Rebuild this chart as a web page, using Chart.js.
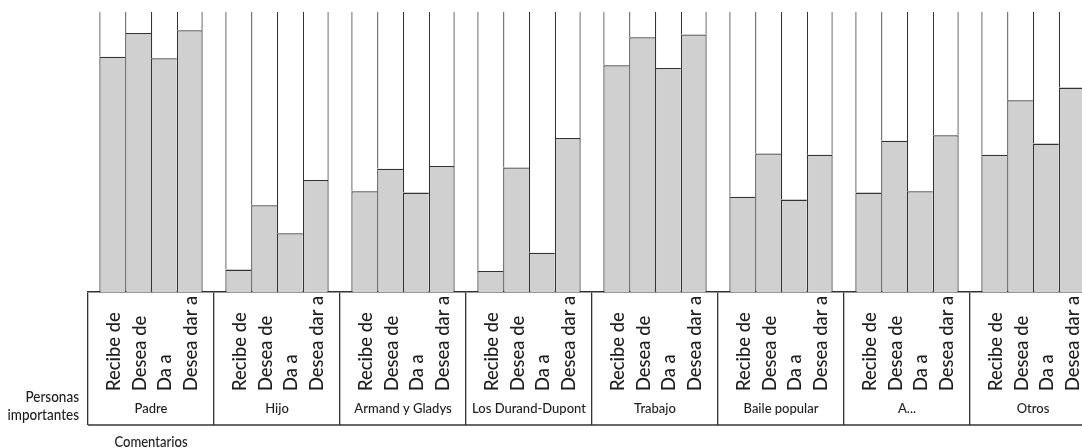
<!DOCTYPE html>
<html lang="es">
<head>
<meta charset="utf-8">
<title>Personas importantes</title>
<script src="https://cdn.jsdelivr.net/npm/chart.js@4.4.1/dist/chart.umd.min.js"></script>
<style>
  html, body { margin: 0; padding: 0; background: #fff; overflow: hidden; }
  #wrap { width: 1100px; height: 448px; }
</style>
</head>
<body>
<div id="wrap"><canvas id="chart"></canvas></div>
<script>
"use strict";

// groups along the bottom of the table
const categories = ["Padre", "Hijo", "Armand y Gladys", "Los Durand-Dupont", "Trabajo", "Baile popular", "A...", "Otros"];
// the four columns inside every group
const series = ["Recibe de", "Desea de", "Da a", "Desea dar a"];

// values (0 - 100)
const recibeDe = [84, 8, 36, 7.5, 81, 34, 35.5, 49];
const deseaDe = [92.5, 31, 44, 44.5, 91, 49.5, 54, 68.5];
const daA = [83.5, 21, 35.5, 14, 80, 33, 36, 53];
const deseaDarA = [93.5, 40, 45, 55, 92, 49, 56, 73];

const rowTitle = ["Personas", "importantes"];
const footTitle = "Comentarios";
const scaleMax = 100;

const values = [recibeDe, deseaDe, daA, deseaDarA];
const lineColor = "#333";
const fillColor = "#d0d0d0";
const textColor = "#1e1e1e";

Chart.defaults.font.family = "Lato";

// grey bar plus an empty white part on top of it, so every column has its side lines
const datasets = [];
values.forEach(function (vals, s) {
  const last = s === values.length - 1;
  datasets.push({
    label: series[s],
    data: vals,
    stack: "s" + s,
    backgroundColor: fillColor,
    borderColor: lineColor,
    borderWidth: { top: 1.3, left: 1.2, right: last ? 1.2 : 0, bottom: 0 },
    borderSkipped: false,
  });
  datasets.push({
    label: series[s] + " (resto)",
    data: vals.map(function (v) { return scaleMax - v; }),
    stack: "s" + s,
    backgroundColor: "#fff",
    borderColor: lineColor,
    borderWidth: { top: 0, left: 1.2, right: last ? 1.2 : 0, bottom: 0 },
    borderSkipped: false,
  });
});

// texts of the table under the bars
const tableText = {
  id: "tableText",
  afterDraw(chart) {
    const ctx = chart.ctx;
    const xs = chart.scales.x;
    const tableBottom = xs.top + xs.options.grid.tickLength;
    ctx.save();

    // bottom line of the table
    ctx.strokeStyle = lineColor;
    ctx.lineWidth = 1.5;
    ctx.beginPath();
    ctx.moveTo(xs.left, tableBottom);
    ctx.lineTo(xs.right, tableBottom);
    ctx.stroke();

    // rotated column names
    ctx.fillStyle = textColor;
    ctx.font = "500 20px Lato";
    ctx.textAlign = "left";
    ctx.textBaseline = "middle";
    series.forEach(function (name, s) {
      const meta = chart.getDatasetMeta(s * 2);
      meta.data.forEach(function (bar) {
        ctx.save();
        ctx.translate(bar.x + 1, xs.top + 99);
        ctx.rotate(-Math.PI / 2);
        ctx.scale(0.92, 1);
        ctx.fillText(name, 0, 0);
        ctx.restore();
      });
    });

    // row and footer titles
    ctx.font = "500 14.5px Lato";
    ctx.textAlign = "right";
    const rx = xs.left - 9;
    [[rowTitle[0], 105], [rowTitle[1], 123]].forEach(function (item) {
      ctx.save();
      ctx.translate(rx, xs.top + item[1]);
      ctx.scale(0.93, 1);
      ctx.fillText(item[0], 0, 0);
      ctx.restore();
    });
    ctx.textAlign = "center";
    ctx.save();
    ctx.translate(xs.getPixelForValue(0), xs.top + 150);
    ctx.scale(0.9, 1);
    ctx.fillText(footTitle, 0, 0);
    ctx.restore();
    ctx.restore();
  },
};

new Chart(document.getElementById("chart"), {
  type: "bar",
  data: { labels: categories, datasets: datasets },
  options: {
    responsive: true,
    maintainAspectRatio: false,
    animation: false,
    layout: { padding: { left: 88, right: 4, top: 12, bottom: 23 } },
    datasets: {
      bar: { categoryPercentage: 0.82, barPercentage: 1, inflateAmount: 0 },
    },
    plugins: {
      legend: { display: false },
      tooltip: { enabled: false },
    },
    scales: {
      x: {
        stacked: true,
        offset: true,
        grid: {
          offset: true,
          drawOnChartArea: false,
          drawTicks: true,
          tickLength: 133,
          color: lineColor,
          lineWidth: 1.3,
        },
        border: { display: true, color: lineColor, width: 1.5 },
        ticks: {
          color: textColor,
          font: { family: "Lato", size: 13, weight: "500" },
          padding: -24,
          autoSkip: false,
          maxRotation: 0,
          minRotation: 0,
        },
        afterFit(scale) {
          scale.height = 133;
        },
      },
      y: {
        display: false,
        stacked: true,
        min: 0,
        max: scaleMax,
      },
    },
  },
  plugins: [tableText],
});
</script>
</body>
</html>
